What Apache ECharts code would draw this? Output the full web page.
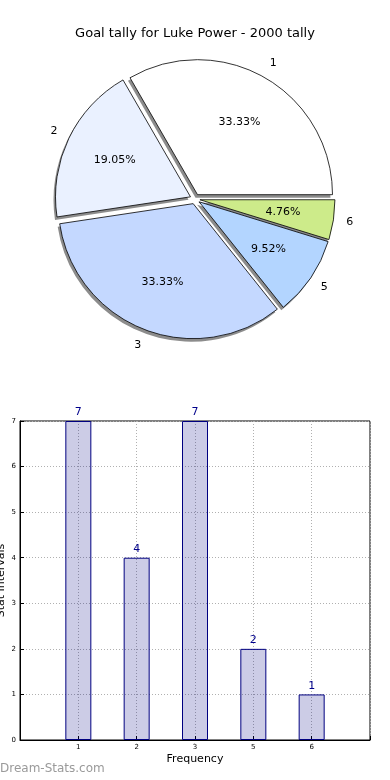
<!DOCTYPE html>
<html><head><meta charset="utf-8">
<script src="https://cdn.jsdelivr.net/npm/echarts@6/dist/echarts.min.js"></script>
<style>html,body{margin:0;padding:0;background:#fff}#c{width:390px;height:780px}</style>
</head><body><div id="c"></div>
<script>
const titleText = 'Goal tally for Luke Power - 2000 tally';
const categories = ['1', '2', '3', '5', '6'];
const tally = [7, 4, 7, 2, 1];
const sliceColors = ['#ffffff', '#eaf1ff', '#c4d8ff', '#b3d5ff', '#cdeb8a'];
const yMin = 0, yMax = 7;

const FONT = 'DejaVu Sans';
const R = 135;
const CENTER = [195, 199];
const total = tally.reduce((a, b) => a + b, 0);

const pieData = categories.map((c, i) => ({
  name: c, value: tally[i], selected: true,
  itemStyle: { color: sliceColors[i] }
}));
const ghostData = categories.map((c, i) => ({
  name: c, value: tally[i], selected: true
}));

const pieBase = {
  type: 'pie', startAngle: 0, clockwise: false,
  selectedMode: 'multiple', selectedOffset: 5,
  avoidLabelOverlap: false, silent: true,
  labelLine: { show: false },
  emphasis: { disabled: true }
};

const chart = echarts.init(document.getElementById('c'), null, { renderer: 'canvas' });
chart.setOption({
  animation: false,
  backgroundColor: '#fff',
  title: {
    text: titleText, left: 'center', top: 22,
    textStyle: { fontFamily: FONT, fontSize: 13, fontWeight: 'normal', color: '#000' }
  },
  graphic: [{
    type: 'text', left: 0, top: 763,
    style: { text: 'Dream-Stats.com', fill: '#9a9a9a', font: '12px "DejaVu Sans"' }
  }],
  grid: {
    left: 20, right: 20, top: 421, bottom: 40, containLabel: false,
    outerBoundsMode: 'none',
    show: true, borderColor: '#000', borderWidth: 1, backgroundColor: 'transparent'
  },
  xAxis: {
    type: 'value', min: 0, max: 6, interval: 1,
    axisLine: { show: true, lineStyle: { color: '#000', width: 1 } },
    axisTick: { show: true, inside: true, length: 4, lineStyle: { color: '#000' } },
    axisLabel: {
      fontFamily: FONT, fontSize: 7, color: '#000', margin: 4,
      formatter: v => (v >= 1 && v <= categories.length) ? categories[v - 1] : ''
    },
    splitLine: { show: true, lineStyle: { type: [1, 2], color: '#b0b0b0' } },
    name: 'Frequency', nameLocation: 'middle', nameGap: 14, nameMoveOverlap: false,
    nameTextStyle: { fontFamily: FONT, fontSize: 11, color: '#000' }
  },
  yAxis: {
    type: 'value', min: yMin, max: yMax, interval: 1,
    axisLine: { show: true, lineStyle: { color: '#000', width: 1 } },
    axisTick: { show: true, inside: true, length: 4, lineStyle: { color: '#000' } },
    axisLabel: { fontFamily: FONT, fontSize: 7, color: '#000', margin: 4 },
    splitLine: { show: true, lineStyle: { type: [1, 2], color: '#b0b0b0' } },
    name: 'Stat Intervals', nameLocation: 'middle', nameRotate: 90, nameGap: 13, nameMoveOverlap: false,
    nameTextStyle: { fontFamily: FONT, fontSize: 11, color: '#000' }
  },
  series: [
    Object.assign({}, pieBase, {
      center: [CENTER[0] - 2, CENTER[1] + 3], radius: [0, R],
      data: ghostData,
      itemStyle: { color: 'rgba(0,0,0,0.45)', borderWidth: 0 },
      label: { show: false }
    }),
    Object.assign({}, pieBase, {
      center: CENTER, radius: [0, R],
      data: pieData,
      itemStyle: { borderColor: '#000', borderWidth: 0.8 },
      label: { show: false }
    }),
    Object.assign({}, pieBase, {
      center: CENTER, radius: [R * 1.05, R * 1.15],
      data: ghostData,
      itemStyle: { color: 'transparent', borderWidth: 0 },
      label: { show: true, position: 'inside', formatter: '{b}', fontFamily: FONT, fontSize: 11, color: '#000' }
    }),
    Object.assign({}, pieBase, {
      center: CENTER, radius: [R * 0.55, R * 0.65],
      data: ghostData,
      itemStyle: { color: 'transparent', borderWidth: 0 },
      label: {
        show: true, position: 'inside', fontFamily: FONT, fontSize: 11, color: '#000',
        formatter: p => (p.value / total * 100).toFixed(2) + '%'
      }
    }),
    {
      type: 'bar',
      data: categories.map((c, i) => [i + 1, tally[i]]),
      barWidth: 26,
      itemStyle: { color: 'rgba(0,0,128,0.2)', borderColor: '#000080', borderWidth: 1 },
      label: { show: true, position: 'top', distance: 3, fontFamily: FONT, fontSize: 11, color: '#00008b' },
      emphasis: { disabled: true }
    }
  ]
});
</script></body></html>
